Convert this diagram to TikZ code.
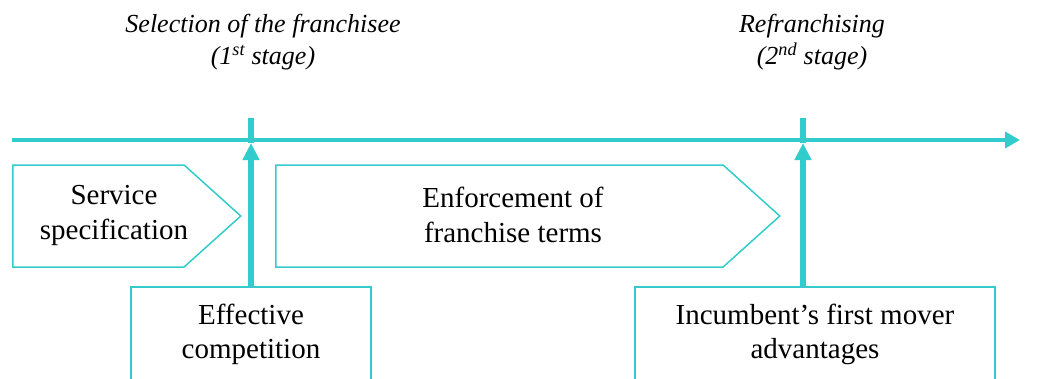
\documentclass[tikz,border=0pt]{standalone}
\usepackage{fontspec}
\setmainfont{Liberation Serif}
\usetikzlibrary{shapes.symbols,arrows.meta}

\definecolor{teal}{RGB}{51,204,204}

\begin{document}
\begin{tikzpicture}[x=1pt, y=-1pt,
    stagebox/.style={signal, signal to=east, signal pointer angle=84, draw=teal, line width=1.5pt,
        minimum height=102pt, inner sep=0pt, anchor=west},
    eventbox/.style={rectangle, draw=teal, line width=2pt, minimum width=240pt, minimum height=94pt,
        align=center, font=\fontsize{29}{34}\selectfont},
    bodytext/.style={align=center, font=\fontsize{29}{35}\selectfont},
    titletext/.style={align=center, font=\fontsize{26}{32}\selectfont\itshape},
    timeline/.style={teal, line width=4pt, -{Triangle[length=15pt,width=16pt]}},
    marker/.style={teal, line width=6pt}]

    % Fix the picture size
    \useasboundingbox (0,0) rectangle (1038,378);
    \clip (0,0) rectangle (1038,378);

    % Time axis
    \coordinate (T0) at (12,140);
    \coordinate (T1) at (1020,140);
    \draw[timeline] (T0) -- (T1);

    % Stages along the axis
    \node[stagebox, minimum width=228pt] (spec) at (12,216) {};
    \node[bodytext] (spectxt) at (114,215) {Service\\specification};
    \node[stagebox, minimum width=504pt] (enforce) at (275,216) {};
    \node[bodytext] (enforcetxt) at (513,215) {Enforcement of\\franchise terms};

    % Events below the axis
    \node[eventbox] (compete) at (251,334) {Effective\\competition};
    \node[eventbox, minimum width=360pt] (incumbent) at (815,334) {Incumbent's first mover\\advantages};

    % Vertical markers with their arrows
    \coordinate (A1) at (251,143);
    \coordinate (A1top) at (251,118);
    \coordinate (A2) at (803,143);
    \coordinate (A2top) at (803,118);
    \draw[marker, -{Triangle[length=17pt,width=16pt]}] (compete.north -| A1) -- (A1);
    \draw[marker] (A1) -- (A1top);
    \draw[marker, -{Triangle[length=17pt,width=16pt]}] (incumbent.north -| A2) -- (A2);
    \draw[marker] (A2) -- (A2top);

    % Titles of the two stages
    \node[titletext] (first) at (263,42) {Selection of the franchisee\\(1\textsuperscript{st} stage)};
    \node[titletext] (second) at (812,42) {Refranchising\\(2\textsuperscript{nd} stage)};

\end{tikzpicture}
\end{document}
